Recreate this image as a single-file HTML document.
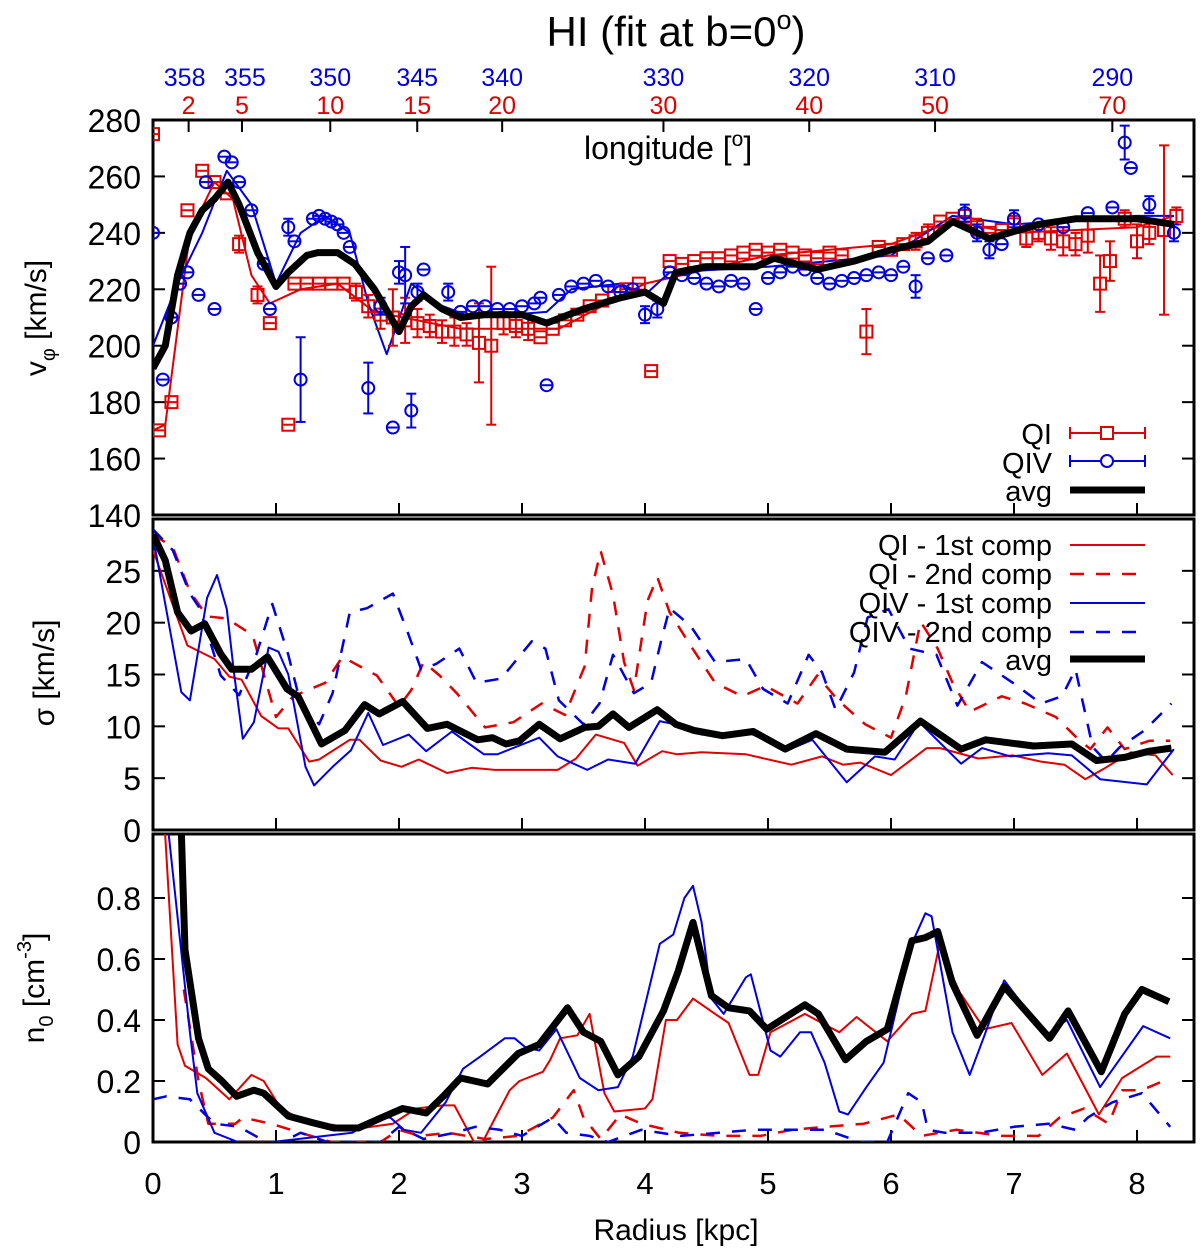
<!DOCTYPE html>
<html><head><meta charset="utf-8">
<style>
html,body{margin:0;padding:0;background:#fff;}
svg{display:block;font-family:"Liberation Sans",Arial,sans-serif;}
</style></head>
<body>
<svg id="chart" width="1200" height="1252" viewBox="0 0 1200 1252" xmlns="http://www.w3.org/2000/svg">
<defs>
<clipPath id="c1"><rect x="153" y="120" width="1041" height="395"/></clipPath>
<clipPath id="c2"><rect x="153" y="519" width="1041" height="311"/></clipPath>
<clipPath id="c3"><rect x="153" y="834" width="1041" height="308"/></clipPath>
</defs>
<text x="676" y="46" font-size="42" text-anchor="middle">HI (fit at b=0<tspan font-size="27" dy="-17">o</tspan><tspan dy="17">)</tspan></text>
<g id="axes"></g>
<g id="marks"></g>
<text x="584" y="159" font-size="32">longitude [<tspan font-size="21" dy="-13">o</tspan><tspan dy="13">]</tspan></text>
<text transform="translate(46,318) rotate(-90)" font-size="30" text-anchor="middle">v<tspan font-size="20" dy="9">φ</tspan><tspan dy="-9"> [km/s]</tspan></text>
<text transform="translate(54,673) rotate(-90)" font-size="30" text-anchor="middle">σ [km/s]</text>
<text transform="translate(44,988) rotate(-90)" font-size="30" text-anchor="middle">n<tspan font-size="20" dy="9">0</tspan><tspan dy="-9"> [cm</tspan><tspan font-size="20" dy="-13">-3</tspan><tspan dy="13">]</tspan></text>
<text x="676" y="1240" font-size="30" text-anchor="middle">Radius [kpc]</text>
</svg>
<script>
// ---- data ----
const xTicks=[0,1,2,3,4,5,6,7,8];
const lonTicksQI=[2,5,10,15,20,30,40,50,70];
const lonTicksQIV=[358,355,350,345,340,330,320,310,290];
const vTicks=[280,260,240,220,200,180,160,140];
const sTicks=[25,20,15,10,5,0];
const nTicks=[0.8,0.6,0.4,0.2,0];
const R0=8.3;

const qiR=[0,0.05,0.15,0.28,0.4,0.5,0.6,0.7,0.85,0.95,1.1,1.15,1.25,1.35,1.45,1.55,1.65,1.75,1.85,1.95,2.05,2.15,2.25,2.35,2.45,2.55,2.65,2.75,2.85,2.95,3.05,3.15,3.25,3.35,3.45,3.55,3.65,3.75,3.85,3.95,4.05,4.2,4.3,4.4,4.5,4.6,4.7,4.8,4.9,5.0,5.1,5.2,5.3,5.4,5.5,5.6,5.8,5.9,6.0,6.1,6.2,6.3,6.4,6.5,6.6,6.7,6.8,6.9,7.0,7.1,7.2,7.3,7.4,7.5,7.6,7.7,7.78,7.9,8.0,8.1,8.22,8.32];
const qiV=[275,170,180,248,262,258,254,236,218,208,172,222,222,222,222,222,219,214,211,210,209,208,207,205,205,204,201,200,208,207,206,203,206,209,211,214,216,219,220,222,191,230,229,230,231,231,232,233,234,233,234,233,232,231,233,232,205,235,234,236,237,240,244,245,246,242,240,241,243,238,240,238,237,236,239,222,230,245,237,240,241,246];
const qiE=[0,2,2,2,1,2,2,3,3,2,2,2,2,2,2,2,3,4,5,10,8,5,4,4,5,4,14,28,4,4,4,2,2,2,2,2,2,2,2,2,1,2,2,2,2,2,2,2,2,2,2,2,2,2,2,2,8,2,2,2,3,3,2,2,2,3,2,2,3,3,3,4,5,4,6,10,7,3,6,4,30,3];

const qivR=[0,0.08,0.15,0.22,0.28,0.37,0.43,0.5,0.58,0.64,0.7,0.8,0.9,0.95,1.1,1.15,1.2,1.3,1.35,1.4,1.45,1.5,1.55,1.6,1.75,1.85,1.95,2.0,2.05,2.1,2.15,2.2,2.4,2.5,2.6,2.7,2.8,2.9,3.0,3.1,3.15,3.2,3.3,3.4,3.5,3.6,3.7,3.8,3.9,4.0,4.1,4.2,4.3,4.4,4.5,4.6,4.7,4.8,4.9,5.0,5.1,5.2,5.3,5.4,5.5,5.6,5.7,5.8,5.9,6.0,6.1,6.2,6.3,6.45,6.6,6.7,6.8,6.9,7.0,7.2,7.4,7.6,7.8,7.9,7.95,8.1,8.3];
const qivV=[240,188,210,222,226,218,258,213,267,265,258,248,229,213,242,237,188,245,246,245,244,243,240,235,185,214,171,226,225,177,219,227,219,212,214,214,213,213,214,215,217,186,218,221,222,223,221,219,220,211,213,226,225,224,222,221,223,222,213,224,226,228,227,224,222,223,224,225,226,225,228,221,231,232,247,240,234,236,245,243,242,247,249,272,263,250,240];
const qivE=[1,1,2,2,2,1,1,1,1,1,1,2,2,2,3,2,15,2,1,1,1,1,1,2,9,3,2,4,10,6,3,2,3,2,2,2,2,2,2,2,2,2,2,2,2,2,2,2,2,3,3,2,2,2,2,2,2,2,2,2,2,2,2,2,2,2,2,2,2,2,2,4,2,2,3,3,3,2,3,2,2,2,2,6,1,3,3];

const fitQIR=[0,0.1,0.3,0.5,0.65,0.8,0.95,1.2,1.5,1.8,2.5,3.3,4,5,6,6.5,7,8,8.3];
const fitQIV_=[170,172,240,258,252,225,215,220,222,212,206,206,222,232,236,244,240,242,246];
const fitQIVR=[0,0.2,0.4,0.6,0.8,1.0,1.2,1.4,1.6,1.75,1.9,2.1,2.3,2.6,3.2,3.4,3.8,4.0,4.2,5,6,6.5,7,8,8.3];
const fitQIVV=[200,222,240,262,250,222,240,246,240,215,197,222,215,210,212,220,222,218,226,228,232,246,243,246,246];

const avgVR=[0,0.1,0.2,0.3,0.4,0.5,0.61,0.7,0.85,1.0,1.1,1.25,1.34,1.5,1.64,1.8,2.0,2.1,2.2,2.35,2.5,2.7,3.0,3.2,3.5,3.8,4.0,4.15,4.25,4.5,4.9,5.05,5.4,5.7,6.0,6.3,6.5,6.8,7.2,7.5,8.0,8.3];
const avgVV=[192,200,225,240,248,252,258,250,233,221,226,232,233,233,229,220,205,214,218,213,210,211,211,208,213,217,219,215,226,228,228,231,227,230,234,237,244,238,243,245,245,243];

const avgSR=[0,0.1,0.2,0.31,0.42,0.55,0.64,0.8,0.93,1.09,1.18,1.37,1.56,1.72,1.84,2.03,2.23,2.39,2.64,2.76,2.87,2.98,3.14,3.31,3.51,3.62,3.74,3.87,4.1,4.25,4.4,4.63,4.88,5.14,5.39,5.64,5.95,6.24,6.57,6.77,7.16,7.47,7.67,7.9,8.1,8.28];
const avgSV=[28.5,26,21,19.2,19.9,17,15.5,15.5,16.7,13.6,12.9,8.3,9.6,12.1,11.2,12.4,9.8,10.2,8.7,8.9,8.3,8.6,10.2,8.8,9.9,10,11.2,9.9,11.6,10.2,9.6,9.1,9.5,7.8,9.3,7.8,7.5,10.5,7.8,8.7,8.1,8.3,6.7,7,7.6,7.9];
const qi1R=[0,0.28,0.5,0.62,0.72,0.88,1.02,1.1,1.27,1.35,1.6,1.68,1.85,2.02,2.16,2.39,2.59,2.78,3.29,3.44,3.6,3.83,3.94,4.14,4.26,4.46,4.82,5.19,5.44,5.61,5.75,6.0,6.29,6.4,6.71,6.99,7.22,7.41,7.58,7.73,7.95,8.15,8.29];
const qi1V=[27,17.8,16.5,14.8,14.5,11,9.8,9.8,6.6,6.8,8.7,8.7,6.7,6.1,6.8,5.5,6,5.8,5.8,6.9,9.2,8.4,6.2,7.6,7.3,7.5,7.3,6.3,7.1,6.3,6.5,5.3,7.9,7.9,6.9,7.2,6.6,6.3,4.9,5.9,7.5,7.2,5.3];
const qiv1R=[0,0.23,0.3,0.44,0.52,0.6,0.66,0.73,0.82,0.94,1.02,1.1,1.24,1.31,1.47,1.61,1.75,1.87,2.08,2.22,2.43,2.69,2.8,3.14,3.29,3.53,3.7,3.92,4.12,4.24,4.46,4.82,5.16,5.36,5.64,5.87,6.03,6.23,6.57,6.74,6.97,7.28,7.47,7.7,8.08,8.3];
const qiv1V=[28.3,13.3,12.5,22.4,24.6,21.3,15,8.8,10.4,17.6,17.2,15,6.1,4.3,6.2,7.7,11.3,8.2,9.2,7.6,9.5,7.3,7.3,8.9,7.1,5.8,6.8,6.4,10.5,10.2,9.2,9.5,7.7,8.7,4.6,7.1,6.8,10.4,6.4,7.9,7.1,7.4,7.2,4.9,4.4,7.8];
const qi2R=[0,0.16,0.3,0.44,0.6,0.81,1.0,1.14,1.4,1.54,1.82,2.0,2.1,2.2,2.33,2.47,2.7,2.93,3.16,3.35,3.51,3.57,3.64,3.74,3.83,3.91,4.02,4.1,4.2,4.37,4.57,4.79,4.98,5.24,5.4,5.57,5.79,6.0,6.12,6.24,6.38,6.5,6.64,6.9,7.09,7.34,7.51,7.62,7.76,7.9,8.1,8.27];
const qi2V=[28.5,27.3,23,20.6,20.4,18.8,10.9,12.9,14.2,16.7,14.9,11.9,13.5,16.2,14.9,13.2,9.9,10.4,12.2,11.1,15.8,23.4,26.9,22.7,16.2,13.5,22.1,24.4,21,17.8,14.2,12.9,13.9,12.2,14.9,12.5,10.2,8.9,12.9,20.1,17.5,14.2,11.4,12.9,12.2,10.9,8.9,7.8,9.9,7.8,8.6,8.6];
const qiv2R=[0,0.16,0.3,0.38,0.55,0.7,0.84,0.97,1.1,1.2,1.35,1.46,1.6,1.74,1.95,2.07,2.18,2.3,2.49,2.63,2.83,3.08,3.19,3.3,3.5,3.63,3.74,3.91,4.05,4.13,4.2,4.37,4.57,4.82,4.96,5.16,5.33,5.44,5.55,5.7,5.81,5.98,6.15,6.37,6.54,6.74,6.99,7.22,7.39,7.5,7.64,7.75,7.86,8.06,8.28];
const qiv2V=[29,27,22.8,21.4,14.9,13,16.9,21.8,16.9,12.2,10.2,13.2,21,21.4,22.8,19.1,15.5,16,17.5,14.2,14.6,18.2,17.5,12.5,10.2,12.2,16.9,13.2,14.2,18.2,21.4,19.7,16.2,16.5,13.6,12.2,16.9,15.2,11.6,15.2,20.5,21.3,17.5,16.9,12,16.2,14.2,12.2,12.9,15.5,8,6.6,8,9.6,12.2];

const avgNR=[0.2,0.23,0.26,0.37,0.45,0.56,0.68,0.82,0.9,1.1,1.3,1.47,1.67,1.86,2.03,2.22,2.36,2.5,2.72,2.97,3.14,3.37,3.5,3.64,3.78,3.95,4.15,4.27,4.39,4.54,4.68,4.85,4.99,5.3,5.41,5.63,5.8,5.97,6.17,6.28,6.38,6.5,6.7,6.92,7.29,7.44,7.71,7.9,8.04,8.26];
const avgNV=[1.3,1.02,0.63,0.34,0.24,0.2,0.15,0.17,0.16,0.085,0.063,0.046,0.046,0.08,0.11,0.095,0.15,0.21,0.19,0.29,0.32,0.44,0.36,0.33,0.22,0.28,0.43,0.56,0.72,0.48,0.44,0.43,0.37,0.45,0.42,0.27,0.33,0.37,0.66,0.67,0.69,0.52,0.35,0.51,0.34,0.43,0.23,0.42,0.5,0.46];
const qi1NR=[0.05,0.1,0.2,0.26,0.43,0.62,0.8,0.9,1.04,1.29,1.47,1.61,1.95,2.14,2.36,2.45,2.61,2.68,2.9,2.98,3.17,3.23,3.31,3.45,3.55,3.67,3.75,4.0,4.06,4.17,4.26,4.39,4.57,4.68,4.85,4.92,5.02,5.3,5.58,5.72,5.97,6.17,6.28,6.39,6.56,6.76,6.98,7.23,7.43,7.69,7.88,8.16,8.27];
const qi1NV=[1.3,1.0,0.32,0.25,0.21,0.14,0.22,0.2,0.11,0.056,0.056,0.04,0.06,0.11,0.12,0.12,0.0,0.0,0.17,0.2,0.23,0.27,0.34,0.35,0.42,0.16,0.1,0.11,0.14,0.4,0.4,0.47,0.42,0.39,0.22,0.22,0.36,0.42,0.36,0.41,0.33,0.42,0.43,0.64,0.49,0.37,0.39,0.22,0.29,0.09,0.21,0.28,0.28];
const qiv1NR=[0.08,0.13,0.3,0.36,0.5,0.69,0.97,1.4,1.62,1.82,1.93,2.04,2.18,2.38,2.52,2.66,2.86,2.94,3.03,3.14,3.28,3.47,3.62,3.78,3.9,4.12,4.23,4.32,4.39,4.46,4.54,4.64,4.82,4.86,5.02,5.1,5.26,5.35,5.46,5.58,5.65,5.8,5.94,6.17,6.28,6.33,6.5,6.64,6.76,6.92,7.26,7.43,7.7,8.05,8.27];
const qiv1NV=[1.3,1.0,0.36,0.16,0.03,0.0,0.0,0.02,0.03,0.08,0.08,0.04,0.03,0.13,0.24,0.28,0.34,0.34,0.31,0.3,0.37,0.21,0.17,0.18,0.28,0.65,0.68,0.8,0.84,0.72,0.47,0.42,0.54,0.55,0.3,0.28,0.36,0.36,0.26,0.1,0.09,0.18,0.26,0.65,0.75,0.74,0.36,0.22,0.35,0.53,0.35,0.4,0.18,0.38,0.34];
const qi2NR=[0.25,0.37,0.45,0.67,0.73,0.96,1.2,1.45,1.85,2.0,2.17,2.4,2.7,2.97,3.25,3.42,3.5,3.64,3.8,3.97,4.28,4.6,4.94,5.2,5.47,5.78,6.06,6.25,6.53,6.9,7.2,7.37,7.57,7.77,7.88,8.04,8.27];
const qi2NV=[0.5,0.2,0.06,0.06,0.08,0.06,0.03,0,0,0.04,0.02,0.03,0.01,0.02,0.08,0.17,0.08,0.01,0.09,0.06,0.03,0.02,0.02,0.04,0.05,0.06,0.09,0.02,0.04,0.02,0.02,0.08,0.11,0.06,0.17,0.17,0.21];
const qiv2NR=[0,0.11,0.3,0.5,0.7,0.92,1.05,1.2,1.42,1.85,2.0,2.2,2.45,2.62,2.82,3.0,3.25,3.36,3.55,3.7,3.97,4.29,4.6,4.88,5.16,5.47,5.75,5.97,6.14,6.25,6.3,6.44,6.72,7.0,7.28,7.5,7.6,7.8,8.04,8.27];
const qiv2NV=[0.14,0.15,0.14,0.06,0.05,0,0,0.03,0,0,0.05,0.01,0.03,0.05,0.04,0.02,0.08,0.03,0.02,0,0.04,0.02,0.03,0.04,0.04,0.04,0,0,0.16,0.13,0.04,0.03,0.03,0.05,0.06,0.04,0.08,0.13,0.16,0.05];

// ---- scales ----
const X0=153,KPC=123;
const sx=r=>X0+r*KPC;
const sy1=v=>120+(280-v)*395/140;
const sy2=v=>830-v*311/30;
const sy3=v=>1142-v*305;
const NS='http://www.w3.org/2000/svg';
const axes=document.getElementById('axes'), marks=document.getElementById('marks');
function mk(tag,attrs,parent){const e=document.createElementNS(NS,tag);for(const k in attrs)e.setAttribute(k,attrs[k]);parent.appendChild(e);return e;}
function pts(R,V,fy){return R.map((r,i)=>sx(r).toFixed(1)+','+fy(V[i]).toFixed(1)).join(' ');}

const panels=[[120,515,'top-panel-frame'],[519,830,'middle-panel-frame'],[834,1142,'bottom-panel-frame']];
panels.forEach(p=>{
  const r=mk('rect',{x:153,y:p[0],width:1041,height:p[1]-p[0],fill:'none',stroke:'#000','stroke-width':3},axes);
  
  
});
xTicks.forEach(t=>{
  [[515,120],[830,519],[1142,834]].forEach(p=>{
    const l=mk('line',{x1:sx(t),x2:sx(t),y1:p[0],y2:p[0]-12,stroke:'#000','stroke-width':2},axes);
    
    
  });
  const tx=mk('text',{x:sx(t),y:1194,'font-size':31,'text-anchor':'middle'},axes);
  tx.textContent=t;
  
  
});
lonTicksQI.forEach((l,i)=>{
  const x=sx(R0*Math.sin(l*Math.PI/180));
  const tk=mk('line',{x1:x,x2:x,y1:120,y2:132,stroke:'#000','stroke-width':2},axes);
  
  
  const t1=mk('text',{x:x,y:114,'font-size':25,'text-anchor':'middle',fill:'#e00000'},axes);
  t1.textContent=l;
  
  
  let bx=x; if(i===0)bx=x-4; if(i===1)bx=x+3;
  const t2=mk('text',{x:bx,y:86,'font-size':25,'text-anchor':'middle',fill:'#0000e0'},axes);
  t2.textContent=lonTicksQIV[i];
  
  
});
function yaxis(ticks,fy,fmt,name){
  ticks.forEach(t=>{
    const y=fy(t);
    const l=mk('line',{x1:153,x2:165,y1:y,y2:y,stroke:'#000','stroke-width':2},axes);
    
    
    const l2=mk('line',{x1:1182,x2:1194,y1:y,y2:y,stroke:'#000','stroke-width':2},axes);
    
    
    const tx=mk('text',{x:141,y:y+12,'font-size':32,'text-anchor':'end'},axes);
    tx.textContent=fmt(t);
    
    
  });
}
yaxis(vTicks,sy1,t=>t,'vphi');
yaxis(sTicks.filter(t=>t>0),sy2,t=>t,'sigma');
yaxis([0],sy2,t=>t,'sigma-zero');
yaxis(nTicks,sy3,t=>t===0?'0':t.toFixed(1),'n0');

const g1=mk('g',{'clip-path':'url(#c1)'},marks);


const g2=mk('g',{'clip-path':'url(#c2)'},marks);


const g3=mk('g',{'clip-path':'url(#c3)'},marks);



function line(R,V,fy,color,w,dash,parent,name){
  const a={points:pts(R,V,fy),fill:'none',stroke:color,'stroke-width':w,'stroke-linejoin':'round'};
  if(dash)a['stroke-dasharray']=dash;
  const p=mk('polyline',a,parent);
  
  
}
line(fitQIR,fitQIV_,sy1,'#e00000',2,null,g1,'qi-fit-line');
line(fitQIVR,fitQIVV,sy1,'#0000e0',2,null,g1,'qiv-fit-line');
function errPts(R,V,E,color,shape,name){
  R.forEach((r,i)=>{
    const x=sx(r),y=sy1(V[i]),e=E[i]*395/140;
    const g=mk('g',{stroke:color,'stroke-width':2,fill:'none'},g1);
    
    
    if(e>6){
      mk('line',{x1:x,x2:x,y1:y-e,y2:y+e},g);
      mk('line',{x1:x-5,x2:x+5,y1:y-e,y2:y-e},g);
      mk('line',{x1:x-5,x2:x+5,y1:y+e,y2:y+e},g);
    } else {
      mk('line',{x1:x-5,x2:x+5,y1:y,y2:y},g);
    }
    if(shape==='sq') mk('rect',{x:x-6,y:y-6,width:12,height:12},g);
    else mk('circle',{cx:x,cy:y,r:6},g);
  });
}
errPts(qiR,qiV,qiE,'#e00000','sq','qi-point');
errPts(qivR,qivV,qivE,'#0000e0','ci','qiv-point');
line(avgVR,avgVV,sy1,'#000',7,null,g1,'vphi-avg-line');

line(qi1R,qi1V,sy2,'#e00000',2,null,g2,'sigma-qi-1st-line');
line(qi2R,qi2V,sy2,'#e00000',2.5,'14,12',g2,'sigma-qi-2nd-line');
line(qiv1R,qiv1V,sy2,'#0000e0',2,null,g2,'sigma-qiv-1st-line');
line(qiv2R,qiv2V,sy2,'#0000e0',2.5,'14,12',g2,'sigma-qiv-2nd-line');
line(avgSR,avgSV,sy2,'#000',7,null,g2,'sigma-avg-line');

line(qi1NR,qi1NV,sy3,'#e00000',2,null,g3,'n0-qi-1st-line');
line(qi2NR,qi2NV,sy3,'#e00000',2.5,'14,12',g3,'n0-qi-2nd-line');
line(qiv1NR,qiv1NV,sy3,'#0000e0',2,null,g3,'n0-qiv-1st-line');
line(qiv2NR,qiv2NV,sy3,'#0000e0',2.5,'14,12',g3,'n0-qiv-2nd-line');
line(avgNR,avgNV,sy3,'#000',7,null,g3,'n0-avg-line');

function legText(x,y,s,name){
  const t=mk('text',{x:x,y:y,'font-size':29,'text-anchor':'end'},marks);
  t.textContent=s;
  
  
}
const lg=mk('g',{},marks);


legText(1052,444,'QI','legend-qi-label');
legText(1052,473,'QIV','legend-qiv-label');
legText(1052,501,'avg','legend-avg-label');
mk('line',{x1:1070,x2:1145,y1:433,y2:433,stroke:'#e00000','stroke-width':2},lg);
mk('line',{x1:1070,x2:1070,y1:427,y2:439,stroke:'#e00000','stroke-width':2},lg);
mk('line',{x1:1145,x2:1145,y1:427,y2:439,stroke:'#e00000','stroke-width':2},lg);
mk('rect',{x:1101,y:427,width:12,height:12,fill:'#fff',stroke:'#e00000','stroke-width':2},lg);
mk('line',{x1:1070,x2:1145,y1:461,y2:461,stroke:'#0000e0','stroke-width':2},lg);
mk('line',{x1:1070,x2:1070,y1:455,y2:467,stroke:'#0000e0','stroke-width':2},lg);
mk('line',{x1:1145,x2:1145,y1:455,y2:467,stroke:'#0000e0','stroke-width':2},lg);
mk('circle',{cx:1107,cy:461,r:6,fill:'#fff',stroke:'#0000e0','stroke-width':2},lg);
mk('line',{x1:1070,x2:1145,y1:490,y2:490,stroke:'#000','stroke-width':7},lg);

const lg2=mk('g',{},marks);


legText(1052,555,'QI - 1st comp','legend-qi-1st-label');
legText(1052,584,'QI - 2nd comp','legend-qi-2nd-label');
legText(1052,613,'QIV - 1st comp','legend-qiv-1st-label');
legText(1052,642,'QIV - 2nd comp','legend-qiv-2nd-label');
legText(1052,670,'avg','legend-sigma-avg-label');
mk('line',{x1:1070,x2:1145,y1:545,y2:545,stroke:'#e00000','stroke-width':2},lg2);
mk('line',{x1:1070,x2:1145,y1:574,y2:574,stroke:'#e00000','stroke-width':2.5,'stroke-dasharray':'14,12'},lg2);
mk('line',{x1:1070,x2:1145,y1:603,y2:603,stroke:'#0000e0','stroke-width':2},lg2);
mk('line',{x1:1070,x2:1145,y1:632,y2:632,stroke:'#0000e0','stroke-width':2.5,'stroke-dasharray':'14,12'},lg2);
mk('line',{x1:1070,x2:1145,y1:659,y2:659,stroke:'#000','stroke-width':7},lg2);
</script>
</body></html>
